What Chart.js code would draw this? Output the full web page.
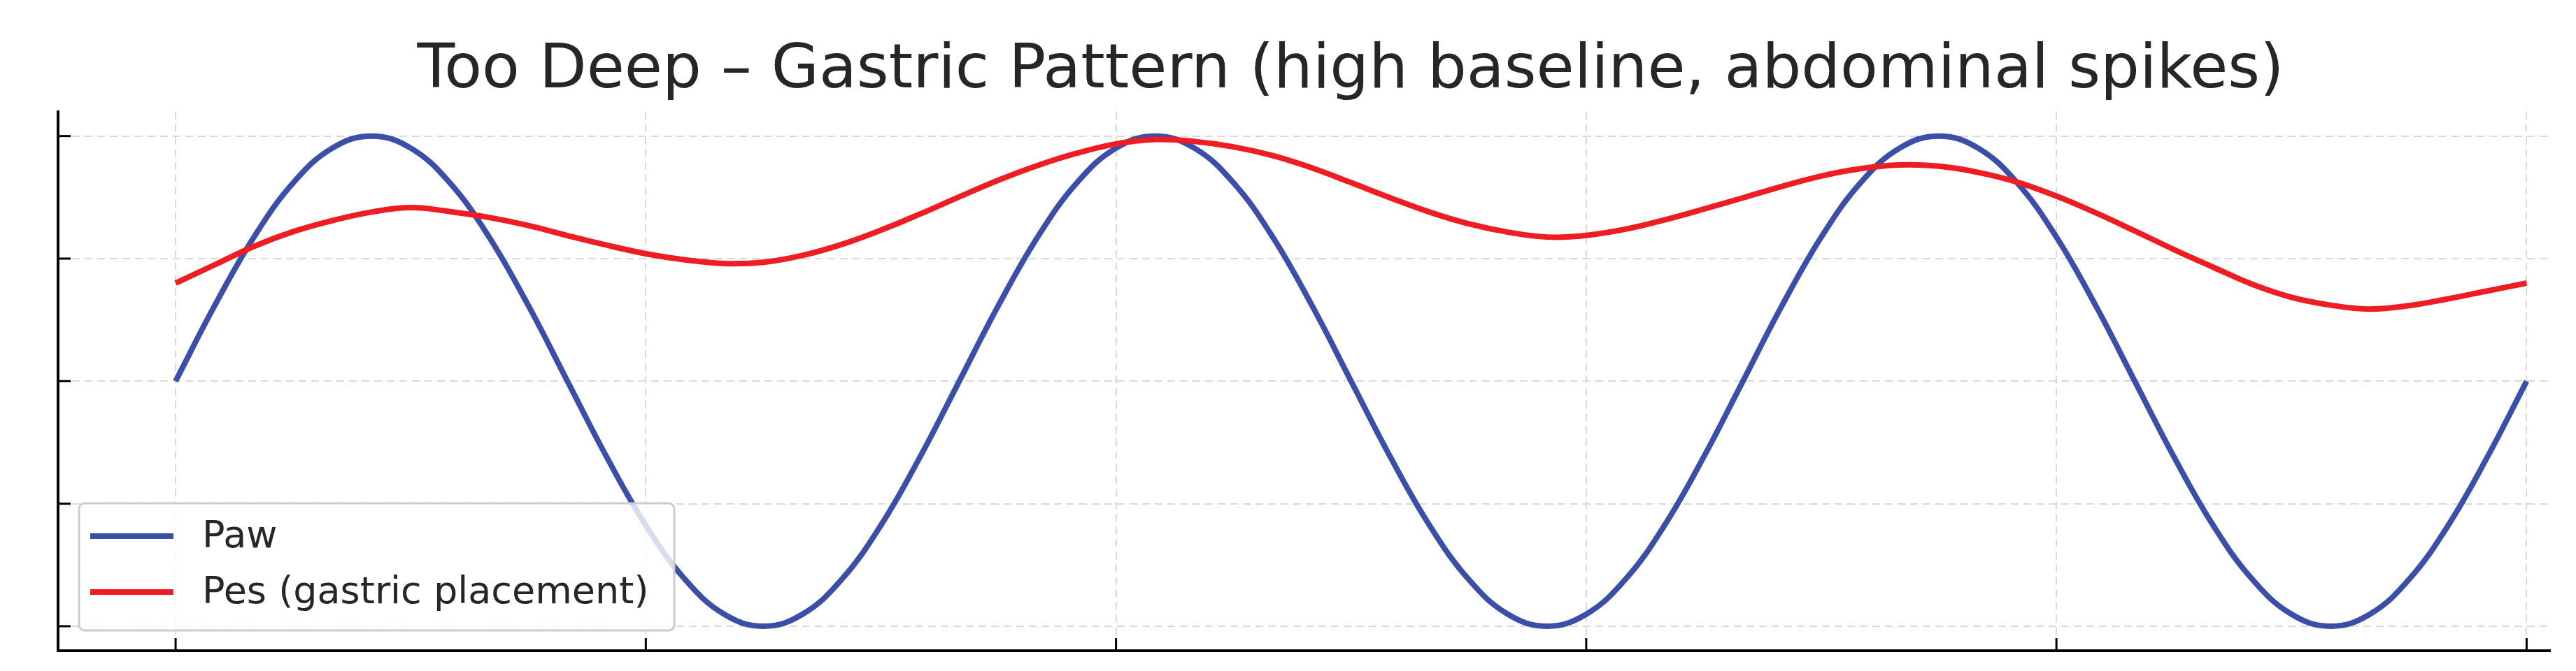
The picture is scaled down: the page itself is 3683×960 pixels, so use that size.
<!DOCTYPE html>
<html>
<head>
<meta charset="utf-8">
<title>Too Deep – Gastric Pattern</title>
<script src="https://cdn.jsdelivr.net/npm/chart.js@4.4.1/dist/chart.umd.min.js"></script>
<style>
  html, body { margin: 0; padding: 0; background: #fff; overflow: hidden; }
  #wrap { width: 3862px; height: 960px; }
</style>
</head>
<body>
<div id="wrap"><canvas id="chart" width="3862" height="960"></canvas></div>
<script>
const titleText = 'Too Deep – Gastric Pattern (high baseline, abdominal spikes)';
const seriesLabels = ['Paw', 'Pes (gastric placement)'];

// sample index along the trace, 12 samples between vertical grid lines
const sampleIdx = [
  0, 1, 2, 3, 4, 5, 6, 7, 8, 9, 10, 11, 12, 13, 14, 15, 16, 17, 18, 19,
  20, 21, 22, 23, 24, 25, 26, 27, 28, 29, 30, 31, 32, 33, 34, 35, 36, 37, 38, 39,
  40, 41, 42, 43, 44, 45, 46, 47, 48, 49, 50, 51, 52, 53, 54, 55, 56, 57, 58, 59, 60
];

const pawValues = [
  10, 13.09, 15.88, 18.09, 19.51, 20, 19.51, 18.09, 15.88, 13.09,
  10, 6.91, 4.12, 1.91, 0.49, 0, 0.49, 1.91, 4.12, 6.91,
  10, 13.09, 15.88, 18.09, 19.51, 20, 19.51, 18.09, 15.88, 13.09,
  10, 6.91, 4.12, 1.91, 0.49, 0, 0.49, 1.91, 4.12, 6.91,
  10, 13.09, 15.88, 18.09, 19.51, 20, 19.51, 18.09, 15.88, 13.09,
  10, 6.91, 4.12, 1.91, 0.49, 0, 0.49, 1.91, 4.12, 6.91,
  10
];

const pesValues = [
  14.0, 14.75, 15.5, 16.1, 16.55, 16.9, 17.08, 16.92, 16.68, 16.35,
  15.94, 15.55, 15.2, 14.95, 14.8, 14.85, 15.13, 15.58, 16.16, 16.82,
  17.52, 18.2, 18.8, 19.3, 19.68, 19.86, 19.78, 19.56, 19.2, 18.7,
  18.1, 17.48, 16.9, 16.42, 16.08, 15.88, 15.95, 16.2, 16.58, 17.02,
  17.48, 17.95, 18.37, 18.67, 18.82, 18.77, 18.52, 18.12, 17.55, 16.87,
  16.13, 15.37, 14.65, 13.95, 13.42, 13.1, 12.94, 13.08, 13.36, 13.68,
  14.0
];

const xTickValues = [0, 12, 24, 36, 48, 60];
const yTickValues = [0, 5, 10, 15, 20];

const FONT = '"DejaVu Sans", "Liberation Sans", sans-serif';
const TEXT_COLOR = '#262626';
const GRID_COLOR = '#d9d9d9';

// short inward tick marks, like the matplotlib style of the original
const inwardTicks = {
  id: 'inwardTicks',
  afterDatasetsDraw(chart) {
    const { ctx, chartArea: a, scales: { x, y } } = chart;
    ctx.save();
    ctx.strokeStyle = '#000';
    ctx.lineWidth = 3;
    xTickValues.forEach(v => {
      const px = x.getPixelForValue(v);
      ctx.beginPath();
      ctx.moveTo(px, a.bottom);
      ctx.lineTo(px, a.bottom - 18);
      ctx.stroke();
    });
    yTickValues.forEach(v => {
      const py = y.getPixelForValue(v);
      ctx.beginPath();
      ctx.moveTo(a.left, py);
      ctx.lineTo(a.left + 18, py);
      ctx.stroke();
    });
    ctx.restore();
  }
};

// legend box in the lower left corner of the plot
const boxLegend = {
  id: 'boxLegend',
  afterDraw(chart) {
    const { ctx, chartArea: a } = chart;
    const bx = a.left + 30, bw = 851, bh = 182, by = a.bottom - 29 - bh;
    ctx.save();
    ctx.fillStyle = 'rgba(255,255,255,0.8)';
    ctx.strokeStyle = '#cccccc';
    ctx.lineWidth = 3;
    ctx.beginPath();
    ctx.roundRect(bx, by, bw, bh, 8);
    ctx.fill();
    ctx.stroke();
    ctx.font = '54px ' + FONT;
    ctx.textBaseline = 'middle';
    const rows = [by + 47, by + 127];
    chart.data.datasets.forEach((ds, i) => {
      const ry = rows[i];
      ctx.strokeStyle = ds.borderColor;
      ctx.lineWidth = 8;
      ctx.beginPath();
      ctx.moveTo(bx + 16, ry);
      ctx.lineTo(bx + 135, ry);
      ctx.stroke();
      ctx.fillStyle = TEXT_COLOR;
      ctx.fillText(ds.label, bx + 176, ry + 2);
    });
    ctx.restore();
  }
};

const chart = new Chart(document.getElementById('chart'), {
  type: 'line',
  data: {
    datasets: [
      {
        label: seriesLabels[0],
        data: sampleIdx.map((s, i) => ({ x: s, y: pawValues[i] })),
        borderColor: '#3b4fa8',
        borderWidth: 8,
        pointRadius: 0,
        tension: 0.4,
        order: 1
      },
      {
        label: seriesLabels[1],
        data: sampleIdx.map((s, i) => ({ x: s, y: pesValues[i] })),
        borderColor: '#ee1d23',
        borderWidth: 8,
        pointRadius: 0,
        tension: 0.4,
        order: 0
      }
    ]
  },
  options: {
    responsive: false,
    animation: false,
    layout: { padding: { left: 0, right: 0, top: 0, bottom: 29 } },
    scales: {
      x: {
        type: 'linear',
        min: -3,
        max: 60.6,
        afterBuildTicks: s => { s.ticks = xTickValues.map(v => ({ value: v })); },
        ticks: { display: false },
        grid: { color: GRID_COLOR, lineWidth: 2, drawTicks: false },
        border: { display: true, color: '#000', width: 4, dash: [11, 7] }
      },
      y: {
        min: -1,
        max: 21,
        afterBuildTicks: s => { s.ticks = yTickValues.map(v => ({ value: v })); },
        afterFit: s => { s.width = 83; },
        ticks: { display: false },
        grid: { color: GRID_COLOR, lineWidth: 2, drawTicks: false },
        border: { display: true, color: '#000', width: 4, dash: [11, 7] }
      },
      // empty right-hand margin, so the title centres where the original did
      yRight: {
        position: 'right',
        min: -1,
        max: 21,
        afterFit: s => { s.width = 216; },
        ticks: { display: false },
        grid: { display: false, drawTicks: false },
        border: { display: false }
      }
    },
    plugins: {
      legend: { display: false },
      tooltip: { enabled: false },
      title: {
        display: true,
        text: titleText,
        color: TEXT_COLOR,
        font: { family: FONT, size: 88, weight: 'normal', lineHeight: 1.2 },
        padding: { top: 49, bottom: 5 }
      }
    }
  },
  plugins: [inwardTicks, boxLegend]
});
</script>
</body>
</html>
